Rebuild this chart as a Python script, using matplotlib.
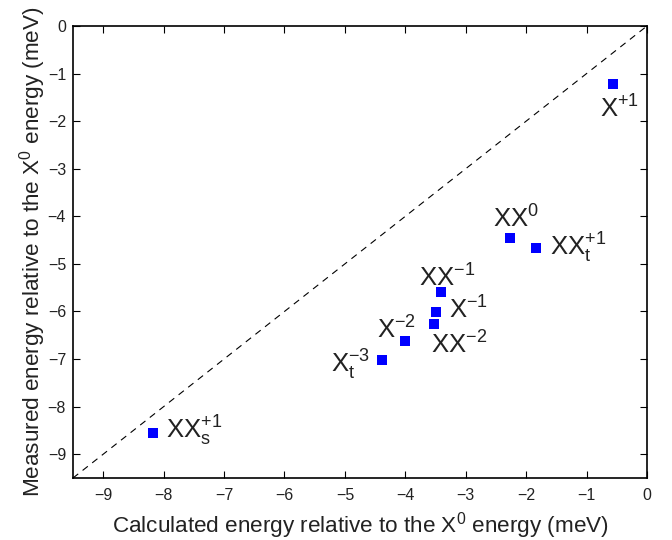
import matplotlib
matplotlib.use('Agg')
import matplotlib.pyplot as plt

plt.rcParams['font.family'] = ['Liberation Sans', 'DejaVu Sans']
plt.rcParams['mathtext.fontset'] = 'custom'
plt.rcParams['mathtext.rm'] = 'Liberation Sans'
plt.rcParams['mathtext.it'] = 'Liberation Sans'
plt.rcParams['mathtext.default'] = 'regular'

# data (meV, relative to X0)
names = [r'XX$^{0}$', r'XX$_{t}^{+1}$', r'XX$^{-1}$', r'X$^{-1}$', r'XX$^{-2}$',
         r'X$^{-2}$', r'X$_{t}^{-3}$', r'XX$_{s}^{+1}$', r'X$^{+1}$']
calculated = [-2.27, -1.83, -3.41, -3.50, -3.53, -4.01, -4.38, -8.17, -0.57]
measured = [-4.45, -4.66, -5.60, -6.01, -6.27, -6.62, -7.02, -8.56, -1.22]
# label offsets in points
offsets = [(-12, 7), (9.5, -6), (-16, 4), (10, -5), (-2, -21),
           (-20, 1.5), (-37, -9), (9, -4), (-9, -24)]
lim = [-9.5, 0]

fig = plt.figure(figsize=(6.72, 5.4), dpi=100)
ax = fig.add_axes([0.1086, 0.1148, 0.8542, 0.8371])

ax.plot(lim, lim, color='black', linestyle=(0, (6, 5)), linewidth=0.8)
ax.plot(calculated, measured, 's', color='#0000ff', markersize=6.5, markeredgewidth=0)

for name, x, y, off in zip(names, calculated, measured, offsets):
    ax.annotate(name, (x, y), xytext=off, textcoords='offset points',
                ha='left', va='baseline', fontsize=18.5, color='#222222')

ax.set_xlim(lim)
ax.set_ylim(lim)
ax.set_xticks(range(-9, 1))
ax.set_yticks(range(-9, 1))
ax.tick_params(direction='in', top=True, right=True, length=5, labelsize=11.5,
               labelcolor='#222222')
ax.tick_params(axis='x', pad=7)
ax.tick_params(axis='y', pad=5)
for s in ax.spines.values():
    s.set_linewidth(1.2)

ax.set_xlabel(r'Calculated energy relative to the X$^{0}$ energy (meV)', fontsize=16.2,
              labelpad=5, color='#222222')
ax.set_ylabel(r'Measured energy relative to the X$^{0}$ energy (meV)', fontsize=16.2,
              labelpad=0, color='#222222')

fig.savefig('out.png', dpi=100)
